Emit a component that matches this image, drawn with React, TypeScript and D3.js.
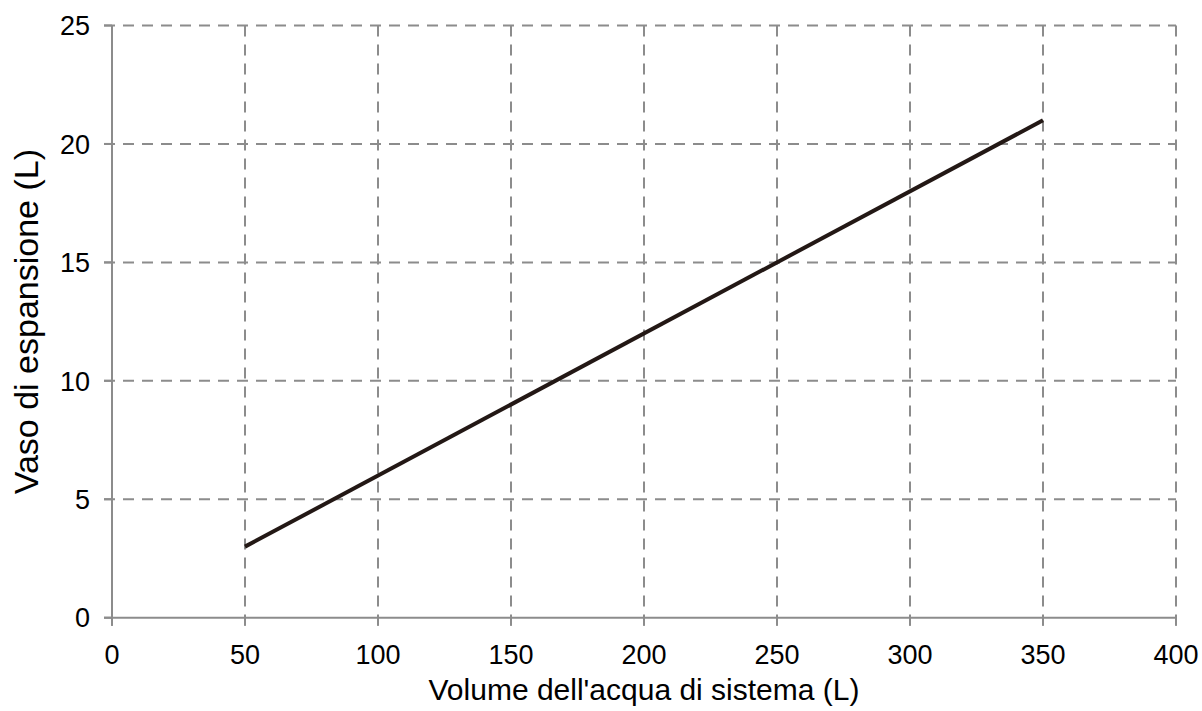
import React from "react";
import * as d3 from "d3";

const xTicks = [0, 50, 100, 150, 200, 250, 300, 350, 400];
const yTicks = [0, 5, 10, 15, 20, 25];
const seriesX = [50, 350];
const seriesY = [3, 21];
const xTitle = "Volume dell'acqua di sistema (L)";
const yTitle = "Vaso di espansione (L)";

export default function App() {
  const W = 1202, H = 711;
  const left = 112, right = 1176, top = 25.5, bottom = 617.7;
  const x = d3.scaleLinear().domain([0, 400]).range([left, right]);
  const y = d3.scaleLinear().domain([0, 25]).range([bottom, top]);
  const line = d3.line<number>().x((d, i) => x(seriesX[i])).y((d) => y(d));
  const font = "'Liberation Sans', Arial, sans-serif";
  const grid = "#8c8c8c";
  return (
    <svg width={W} height={H} style={{ position: "absolute", left: 0, top: 0, background: "#fff" }} fontFamily={font}>
      {/* grid */}
      {xTicks.filter((t) => t > 0).map((t) => (
        <line key={"gx" + t} x1={x(t)} x2={x(t)} y1={y(25)} y2={bottom + 8} stroke={grid} strokeWidth={2} strokeDasharray="11 8" />
      ))}
      {yTicks.filter((t) => t > 0).map((t) => (
        <line key={"gy" + t} x1={left - 8} x2={right} y1={y(t)} y2={y(t)} stroke={grid} strokeWidth={2} strokeDasharray="11 8" />
      ))}
      {/* axes */}
      <line x1={left} x2={left} y1={top} y2={bottom + 8} stroke={grid} strokeWidth={2} />
      <line x1={left - 8} x2={right} y1={bottom} y2={bottom} stroke={grid} strokeWidth={2} />
      {xTicks.map((t) => (
        <line key={"tx" + t} x1={x(t)} x2={x(t)} y1={bottom} y2={bottom + 8} stroke={grid} strokeWidth={2} />
      ))}
      {yTicks.map((t) => (
        <line key={"ty" + t} x1={left - 8} x2={left} y1={y(t)} y2={y(t)} stroke={grid} strokeWidth={2} />
      ))}
      {/* labels */}
      {xTicks.map((t) => (
        <text key={"lx" + t} x={x(t)} y={664} textAnchor="middle" fontSize={27} fill="#000">{t}</text>
      ))}
      {yTicks.map((t) => (
        <text key={"ly" + t} x={90} y={y(t) + 9.7} textAnchor="end" fontSize={27} fill="#000">{t}</text>
      ))}
      <text x={(left + right) / 2} y={700} textAnchor="middle" fontSize={30} fill="#000">{xTitle}</text>
      <text transform={`translate(37.5,${(top + bottom) / 2}) rotate(-90)`} textAnchor="middle" fontSize={34} fill="#000">{yTitle}</text>
      {/* series */}
      <path d={line(seriesY) || ""} fill="none" stroke="#231815" strokeWidth={4} />
    </svg>
  );
}
